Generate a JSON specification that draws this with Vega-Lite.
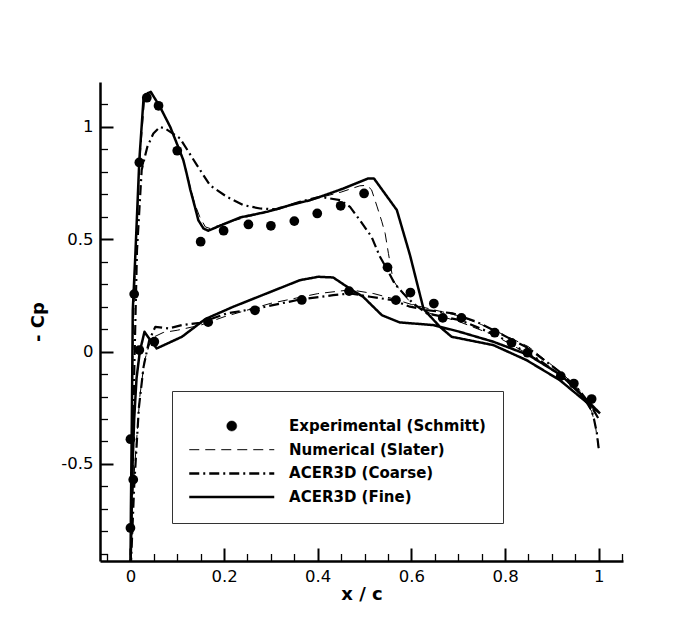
{
  "$schema": "https://vega.github.io/schema/vega-lite/v6.json",
  "width": 523,
  "height": 479,
  "autosize": {"type": "none"},
  "padding": {"left": 100, "top": 82, "right": 75, "bottom": 62},
  "background": "white",
  "config": {
    "font": "DejaVu Sans",
    "view": {"stroke": null},
    "axis": {"grid": false, "domainColor": "black", "tickColor": "black", "labelColor": "black", "titleColor": "black"}
  },
  "datasets": {
    "curves": [
      {"series": "ACER3D (Fine)", "x": 1.003, "cp": -0.275},
      {"series": "ACER3D (Fine)", "x": 0.96, "cp": -0.201},
      {"series": "ACER3D (Fine)", "x": 0.917, "cp": -0.127},
      {"series": "ACER3D (Fine)", "x": 0.846, "cp": -0.038},
      {"series": "ACER3D (Fine)", "x": 0.775, "cp": 0.029},
      {"series": "ACER3D (Fine)", "x": 0.686, "cp": 0.066},
      {"series": "ACER3D (Fine)", "x": 0.661, "cp": 0.11},
      {"series": "ACER3D (Fine)", "x": 0.626, "cp": 0.19},
      {"series": "ACER3D (Fine)", "x": 0.597, "cp": 0.43},
      {"series": "ACER3D (Fine)", "x": 0.569, "cp": 0.63},
      {"series": "ACER3D (Fine)", "x": 0.52, "cp": 0.771},
      {"series": "ACER3D (Fine)", "x": 0.508, "cp": 0.771},
      {"series": "ACER3D (Fine)", "x": 0.455, "cp": 0.726},
      {"series": "ACER3D (Fine)", "x": 0.405, "cp": 0.689},
      {"series": "ACER3D (Fine)", "x": 0.384, "cp": 0.674},
      {"series": "ACER3D (Fine)", "x": 0.348, "cp": 0.656},
      {"series": "ACER3D (Fine)", "x": 0.291, "cp": 0.622},
      {"series": "ACER3D (Fine)", "x": 0.234, "cp": 0.597},
      {"series": "ACER3D (Fine)", "x": 0.191, "cp": 0.56},
      {"series": "ACER3D (Fine)", "x": 0.166, "cp": 0.538},
      {"series": "ACER3D (Fine)", "x": 0.156, "cp": 0.548},
      {"series": "ACER3D (Fine)", "x": 0.145, "cp": 0.585},
      {"series": "ACER3D (Fine)", "x": 0.137, "cp": 0.65},
      {"series": "ACER3D (Fine)", "x": 0.128, "cp": 0.72},
      {"series": "ACER3D (Fine)", "x": 0.12, "cp": 0.793},
      {"series": "ACER3D (Fine)", "x": 0.113, "cp": 0.852},
      {"series": "ACER3D (Fine)", "x": 0.102, "cp": 0.911},
      {"series": "ACER3D (Fine)", "x": 0.085, "cp": 1.0},
      {"series": "ACER3D (Fine)", "x": 0.063, "cp": 1.09},
      {"series": "ACER3D (Fine)", "x": 0.0435, "cp": 1.156},
      {"series": "ACER3D (Fine)", "x": 0.037, "cp": 1.15},
      {"series": "ACER3D (Fine)", "x": 0.028, "cp": 1.127},
      {"series": "ACER3D (Fine)", "x": 0.019, "cp": 0.852},
      {"series": "ACER3D (Fine)", "x": 0.01, "cp": 0.407},
      {"series": "ACER3D (Fine)", "x": 0.005, "cp": 0.185},
      {"series": "ACER3D (Fine)", "x": 0.003, "cp": -0.3},
      {"series": "ACER3D (Fine)", "x": 0.001, "cp": -0.7},
      {"series": "ACER3D (Fine)", "x": 0.0, "cp": -1.0},
      {"series": "ACER3D (Fine)", "x": 0.003, "cp": -0.6},
      {"series": "ACER3D (Fine)", "x": 0.008, "cp": -0.3},
      {"series": "ACER3D (Fine)", "x": 0.013, "cp": -0.12},
      {"series": "ACER3D (Fine)", "x": 0.02, "cp": 0.0},
      {"series": "ACER3D (Fine)", "x": 0.03, "cp": 0.088},
      {"series": "ACER3D (Fine)", "x": 0.036, "cp": 0.07},
      {"series": "ACER3D (Fine)", "x": 0.056, "cp": 0.014},
      {"series": "ACER3D (Fine)", "x": 0.11, "cp": 0.066},
      {"series": "ACER3D (Fine)", "x": 0.16, "cp": 0.145},
      {"series": "ACER3D (Fine)", "x": 0.22, "cp": 0.2},
      {"series": "ACER3D (Fine)", "x": 0.291, "cp": 0.259},
      {"series": "ACER3D (Fine)", "x": 0.362, "cp": 0.318},
      {"series": "ACER3D (Fine)", "x": 0.401, "cp": 0.333},
      {"series": "ACER3D (Fine)", "x": 0.433, "cp": 0.33},
      {"series": "ACER3D (Fine)", "x": 0.476, "cp": 0.27},
      {"series": "ACER3D (Fine)", "x": 0.497, "cp": 0.244},
      {"series": "ACER3D (Fine)", "x": 0.537, "cp": 0.162},
      {"series": "ACER3D (Fine)", "x": 0.575, "cp": 0.13},
      {"series": "ACER3D (Fine)", "x": 0.647, "cp": 0.118},
      {"series": "ACER3D (Fine)", "x": 0.7, "cp": 0.09},
      {"series": "ACER3D (Fine)", "x": 0.775, "cp": 0.044},
      {"series": "ACER3D (Fine)", "x": 0.85, "cp": -0.015},
      {"series": "ACER3D (Fine)", "x": 0.92, "cp": -0.105},
      {"series": "ACER3D (Fine)", "x": 0.96, "cp": -0.185},
      {"series": "ACER3D (Fine)", "x": 1.003, "cp": -0.275},

      {"series": "ACER3D (Coarse)", "x": 1.0, "cp": -0.43},
      {"series": "ACER3D (Coarse)", "x": 0.996, "cp": -0.36},
      {"series": "ACER3D (Coarse)", "x": 0.99, "cp": -0.3},
      {"series": "ACER3D (Coarse)", "x": 0.985, "cp": -0.262},
      {"series": "ACER3D (Coarse)", "x": 0.967, "cp": -0.201},
      {"series": "ACER3D (Coarse)", "x": 0.932, "cp": -0.127},
      {"series": "ACER3D (Coarse)", "x": 0.874, "cp": -0.038},
      {"series": "ACER3D (Coarse)", "x": 0.782, "cp": 0.073},
      {"series": "ACER3D (Coarse)", "x": 0.704, "cp": 0.14},
      {"series": "ACER3D (Coarse)", "x": 0.633, "cp": 0.17},
      {"series": "ACER3D (Coarse)", "x": 0.604, "cp": 0.214},
      {"series": "ACER3D (Coarse)", "x": 0.583, "cp": 0.259},
      {"series": "ACER3D (Coarse)", "x": 0.565, "cp": 0.3},
      {"series": "ACER3D (Coarse)", "x": 0.549, "cp": 0.363},
      {"series": "ACER3D (Coarse)", "x": 0.533, "cp": 0.422},
      {"series": "ACER3D (Coarse)", "x": 0.515, "cp": 0.511},
      {"series": "ACER3D (Coarse)", "x": 0.49, "cp": 0.585},
      {"series": "ACER3D (Coarse)", "x": 0.469, "cp": 0.644},
      {"series": "ACER3D (Coarse)", "x": 0.448, "cp": 0.674},
      {"series": "ACER3D (Coarse)", "x": 0.405, "cp": 0.689},
      {"series": "ACER3D (Coarse)", "x": 0.362, "cp": 0.667},
      {"series": "ACER3D (Coarse)", "x": 0.312, "cp": 0.633},
      {"series": "ACER3D (Coarse)", "x": 0.277, "cp": 0.637},
      {"series": "ACER3D (Coarse)", "x": 0.241, "cp": 0.652},
      {"series": "ACER3D (Coarse)", "x": 0.206, "cp": 0.689},
      {"series": "ACER3D (Coarse)", "x": 0.17, "cp": 0.74},
      {"series": "ACER3D (Coarse)", "x": 0.142, "cp": 0.83},
      {"series": "ACER3D (Coarse)", "x": 0.106, "cp": 0.949},
      {"series": "ACER3D (Coarse)", "x": 0.074, "cp": 0.993},
      {"series": "ACER3D (Coarse)", "x": 0.063, "cp": 1.0},
      {"series": "ACER3D (Coarse)", "x": 0.049, "cp": 0.971},
      {"series": "ACER3D (Coarse)", "x": 0.036, "cp": 0.911},
      {"series": "ACER3D (Coarse)", "x": 0.024, "cp": 0.808},
      {"series": "ACER3D (Coarse)", "x": 0.014, "cp": 0.45},
      {"series": "ACER3D (Coarse)", "x": 0.008, "cp": -0.1},
      {"series": "ACER3D (Coarse)", "x": 0.004, "cp": -0.6},
      {"series": "ACER3D (Coarse)", "x": 0.0, "cp": -1.0},
      {"series": "ACER3D (Coarse)", "x": 0.008, "cp": -0.6},
      {"series": "ACER3D (Coarse)", "x": 0.018, "cp": -0.25},
      {"series": "ACER3D (Coarse)", "x": 0.028, "cp": -0.068},
      {"series": "ACER3D (Coarse)", "x": 0.04, "cp": 0.05},
      {"series": "ACER3D (Coarse)", "x": 0.053, "cp": 0.11},
      {"series": "ACER3D (Coarse)", "x": 0.081, "cp": 0.103},
      {"series": "ACER3D (Coarse)", "x": 0.11, "cp": 0.118},
      {"series": "ACER3D (Coarse)", "x": 0.149, "cp": 0.128},
      {"series": "ACER3D (Coarse)", "x": 0.206, "cp": 0.17},
      {"series": "ACER3D (Coarse)", "x": 0.277, "cp": 0.195},
      {"series": "ACER3D (Coarse)", "x": 0.362, "cp": 0.232},
      {"series": "ACER3D (Coarse)", "x": 0.433, "cp": 0.251},
      {"series": "ACER3D (Coarse)", "x": 0.469, "cp": 0.259},
      {"series": "ACER3D (Coarse)", "x": 0.512, "cp": 0.244},
      {"series": "ACER3D (Coarse)", "x": 0.561, "cp": 0.229},
      {"series": "ACER3D (Coarse)", "x": 0.597, "cp": 0.2},
      {"series": "ACER3D (Coarse)", "x": 0.633, "cp": 0.185},
      {"series": "ACER3D (Coarse)", "x": 0.689, "cp": 0.17},
      {"series": "ACER3D (Coarse)", "x": 0.739, "cp": 0.133},
      {"series": "ACER3D (Coarse)", "x": 0.775, "cp": 0.096},
      {"series": "ACER3D (Coarse)", "x": 0.85, "cp": 0.015},
      {"series": "ACER3D (Coarse)", "x": 0.92, "cp": -0.095},
      {"series": "ACER3D (Coarse)", "x": 0.96, "cp": -0.175},
      {"series": "ACER3D (Coarse)", "x": 0.985, "cp": -0.245},
      {"series": "ACER3D (Coarse)", "x": 1.0, "cp": -0.3},

      {"series": "Numerical (Slater)", "x": 1.0, "cp": -0.43},
      {"series": "Numerical (Slater)", "x": 0.993, "cp": -0.33},
      {"series": "Numerical (Slater)", "x": 0.985, "cp": -0.265},
      {"series": "Numerical (Slater)", "x": 0.965, "cp": -0.205},
      {"series": "Numerical (Slater)", "x": 0.93, "cp": -0.125},
      {"series": "Numerical (Slater)", "x": 0.87, "cp": -0.035},
      {"series": "Numerical (Slater)", "x": 0.78, "cp": 0.07},
      {"series": "Numerical (Slater)", "x": 0.7, "cp": 0.135},
      {"series": "Numerical (Slater)", "x": 0.64, "cp": 0.17},
      {"series": "Numerical (Slater)", "x": 0.6, "cp": 0.215},
      {"series": "Numerical (Slater)", "x": 0.575, "cp": 0.274},
      {"series": "Numerical (Slater)", "x": 0.561, "cp": 0.318},
      {"series": "Numerical (Slater)", "x": 0.551, "cp": 0.437},
      {"series": "Numerical (Slater)", "x": 0.544, "cp": 0.526},
      {"series": "Numerical (Slater)", "x": 0.537, "cp": 0.578},
      {"series": "Numerical (Slater)", "x": 0.527, "cp": 0.644},
      {"series": "Numerical (Slater)", "x": 0.515, "cp": 0.72},
      {"series": "Numerical (Slater)", "x": 0.505, "cp": 0.74},
      {"series": "Numerical (Slater)", "x": 0.49, "cp": 0.738},
      {"series": "Numerical (Slater)", "x": 0.45, "cp": 0.71},
      {"series": "Numerical (Slater)", "x": 0.4, "cp": 0.683},
      {"series": "Numerical (Slater)", "x": 0.35, "cp": 0.655},
      {"series": "Numerical (Slater)", "x": 0.3, "cp": 0.625},
      {"series": "Numerical (Slater)", "x": 0.25, "cp": 0.6},
      {"series": "Numerical (Slater)", "x": 0.2, "cp": 0.57},
      {"series": "Numerical (Slater)", "x": 0.17, "cp": 0.548},
      {"series": "Numerical (Slater)", "x": 0.16, "cp": 0.555},
      {"series": "Numerical (Slater)", "x": 0.148, "cp": 0.6},
      {"series": "Numerical (Slater)", "x": 0.137, "cp": 0.66},
      {"series": "Numerical (Slater)", "x": 0.128, "cp": 0.73},
      {"series": "Numerical (Slater)", "x": 0.12, "cp": 0.8},
      {"series": "Numerical (Slater)", "x": 0.11, "cp": 0.87},
      {"series": "Numerical (Slater)", "x": 0.1, "cp": 0.925},
      {"series": "Numerical (Slater)", "x": 0.085, "cp": 1.0},
      {"series": "Numerical (Slater)", "x": 0.063, "cp": 1.095},
      {"series": "Numerical (Slater)", "x": 0.044, "cp": 1.15},
      {"series": "Numerical (Slater)", "x": 0.03, "cp": 1.12},
      {"series": "Numerical (Slater)", "x": 0.02, "cp": 0.85},
      {"series": "Numerical (Slater)", "x": 0.011, "cp": 0.42},
      {"series": "Numerical (Slater)", "x": 0.006, "cp": 0.1},
      {"series": "Numerical (Slater)", "x": 0.003, "cp": -0.4},
      {"series": "Numerical (Slater)", "x": 0.0, "cp": -1.0},
      {"series": "Numerical (Slater)", "x": 0.006, "cp": -0.6},
      {"series": "Numerical (Slater)", "x": 0.02, "cp": -0.2},
      {"series": "Numerical (Slater)", "x": 0.03, "cp": -0.04},
      {"series": "Numerical (Slater)", "x": 0.045, "cp": 0.06},
      {"series": "Numerical (Slater)", "x": 0.07, "cp": 0.085},
      {"series": "Numerical (Slater)", "x": 0.1, "cp": 0.095},
      {"series": "Numerical (Slater)", "x": 0.15, "cp": 0.118},
      {"series": "Numerical (Slater)", "x": 0.2, "cp": 0.155},
      {"series": "Numerical (Slater)", "x": 0.3, "cp": 0.215},
      {"series": "Numerical (Slater)", "x": 0.4, "cp": 0.258},
      {"series": "Numerical (Slater)", "x": 0.47, "cp": 0.275},
      {"series": "Numerical (Slater)", "x": 0.52, "cp": 0.258},
      {"series": "Numerical (Slater)", "x": 0.56, "cp": 0.236},
      {"series": "Numerical (Slater)", "x": 0.6, "cp": 0.21},
      {"series": "Numerical (Slater)", "x": 0.65, "cp": 0.185},
      {"series": "Numerical (Slater)", "x": 0.7, "cp": 0.16},
      {"series": "Numerical (Slater)", "x": 0.75, "cp": 0.12},
      {"series": "Numerical (Slater)", "x": 0.78, "cp": 0.092},
      {"series": "Numerical (Slater)", "x": 0.85, "cp": 0.022},
      {"series": "Numerical (Slater)", "x": 0.92, "cp": -0.093},
      {"series": "Numerical (Slater)", "x": 0.96, "cp": -0.173},
      {"series": "Numerical (Slater)", "x": 0.985, "cp": -0.25},
      {"series": "Numerical (Slater)", "x": 1.0, "cp": -0.3}
    ],
    "schmitt": [
      {"x": 0.0, "cp": -0.785}, {"x": 0.006, "cp": -0.57}, {"x": 0.0, "cp": -0.39},
      {"x": 0.008, "cp": 0.256}, {"x": 0.019, "cp": 0.842}, {"x": 0.035, "cp": 1.13},
      {"x": 0.06, "cp": 1.094}, {"x": 0.1, "cp": 0.894}, {"x": 0.15, "cp": 0.489},
      {"x": 0.199, "cp": 0.538}, {"x": 0.252, "cp": 0.566}, {"x": 0.3, "cp": 0.56},
      {"x": 0.35, "cp": 0.581}, {"x": 0.399, "cp": 0.615}, {"x": 0.449, "cp": 0.649},
      {"x": 0.499, "cp": 0.704}, {"x": 0.549, "cp": 0.375}, {"x": 0.598, "cp": 0.263},
      {"x": 0.648, "cp": 0.214}, {"x": 0.707, "cp": 0.15}, {"x": 0.778, "cp": 0.084},
      {"x": 0.814, "cp": 0.039}, {"x": 0.848, "cp": -0.005}, {"x": 0.919, "cp": -0.109},
      {"x": 0.947, "cp": -0.142}, {"x": 0.985, "cp": -0.211},
      {"x": 0.019, "cp": 0.007}, {"x": 0.051, "cp": 0.044}, {"x": 0.166, "cp": 0.131},
      {"x": 0.266, "cp": 0.184}, {"x": 0.366, "cp": 0.23}, {"x": 0.467, "cp": 0.269},
      {"x": 0.567, "cp": 0.229}, {"x": 0.667, "cp": 0.15}
    ]
  },
  "resolve": {"axis": {"x": "independent", "y": "independent"}},
  "layer": [
    {
      "data": {"name": "curves"},
      "transform": [{"filter": "datum.series === 'ACER3D (Fine)'"}],
      "mark": {"type": "line", "clip": true, "color": "black", "strokeWidth": 2.5, "strokeJoin": "round"},
      "encoding": {
        "x": {
          "field": "x", "type": "quantitative",
          "scale": {"domain": [-0.065, 1.052], "nice": false, "zero": false},
          "axis": {
            "orient": "bottom", "values": [0, 0.2, 0.4, 0.6, 0.8, 1], "format": "~g",
            "tickSize": -13, "tickWidth": 2, "domainWidth": 2.5, "labelPadding": 20,
            "labelFontSize": 16.5, "labelFlush": false, "labelOverlap": false,
            "title": "x / c", "titleFontSize": 18, "titleFontWeight": "bold", "titlePadding": 1
          }
        },
        "y": {
          "field": "cp", "type": "quantitative",
          "scale": {"domain": [-0.932, 1.2], "nice": false, "zero": false},
          "axis": {
            "orient": "left", "values": [-0.5, 0, 0.5, 1], "format": "~g",
            "labelExpr": "replace(datum.label, '\u2212', '-')",
            "tickSize": -13, "tickWidth": 2, "domainWidth": 2.5, "labelPadding": 20,
            "labelFontSize": 16.5, "labelFlush": false, "labelOverlap": false,
            "title": "- Cp", "titleFontSize": 18, "titleFontWeight": "bold", "titlePadding": 13
          }
        },
        "order": {"value": null},
        "strokeDash": {
          "field": "series", "type": "nominal",
          "scale": {
            "domain": ["Experimental (Schmitt)", "Numerical (Slater)", "ACER3D (Coarse)", "ACER3D (Fine)"],
            "range": [[1, 0], [10, 6], [10, 4, 2, 4], [1, 0]]
          },
          "legend": {
            "orient": "none", "legendX": 72, "legendY": 309,
            "title": " ", "titleFontSize": 8, "titlePadding": 2.5,
            "padding": 17, "strokeColor": "#333", "fillColor": "white",
            "rowPadding": 7.7, "symbolSize": 100, "symbolOffset": 35.25, "labelOffset": 49.8,
            "symbolStrokeColor": "black", "symbolStrokeWidth": 2.5,
            "labelFontSize": 15, "labelFontWeight": "bold", "labelColor": "black", "labelLimit": 400,
            "encode": {
              "symbols": {
                "update": {
                  "shape": {"signal": "datum.value === 'Experimental (Schmitt)' ? 'circle' : 'M-8.5,0H8.5'"},
                  "fill": {"signal": "datum.value === 'Experimental (Schmitt)' ? 'black' : 'transparent'"},
                  "stroke": {"value": "black"},
                  "strokeWidth": {"signal": "datum.value === 'Numerical (Slater)' ? 1 : datum.value === 'Experimental (Schmitt)' ? 0.5 : 2.5"},
                  "strokeDash": {"signal": "datum.value === 'Numerical (Slater)' ? [14, 10] : datum.value === 'ACER3D (Coarse)' ? [17, 5, 3, 5] : [1, 0]"}
                }
              }
            }
          }
        }
      }
    },
    {
      "data": {"name": "curves"},
      "transform": [{"filter": "datum.series === 'ACER3D (Coarse)'"}],
      "mark": {"type": "line", "clip": true, "color": "black", "strokeWidth": 2.2, "strokeJoin": "round"},
      "encoding": {
        "x": {"field": "x", "type": "quantitative", "scale": {"domain": [-0.065, 1.052], "nice": false, "zero": false}, "axis": null},
        "y": {"field": "cp", "type": "quantitative", "scale": {"domain": [-0.932, 1.2], "nice": false, "zero": false}, "axis": null},
        "order": {"value": null},
        "strokeDash": {"field": "series", "type": "nominal"}
      }
    },
    {
      "data": {"name": "curves"},
      "transform": [{"filter": "datum.series === 'Numerical (Slater)'"}],
      "mark": {"type": "line", "clip": true, "color": "black", "strokeWidth": 1, "strokeJoin": "round"},
      "encoding": {
        "x": {"field": "x", "type": "quantitative", "scale": {"domain": [-0.065, 1.052], "nice": false, "zero": false}, "axis": null},
        "y": {"field": "cp", "type": "quantitative", "scale": {"domain": [-0.932, 1.2], "nice": false, "zero": false}, "axis": null},
        "order": {"value": null},
        "strokeDash": {"field": "series", "type": "nominal"}
      }
    },
    {
      "data": {"name": "schmitt"},
      "mark": {"type": "point", "filled": true, "color": "black", "opacity": 1, "size": 95},
      "encoding": {
        "x": {
          "field": "x", "type": "quantitative",
          "scale": {"domain": [-0.065, 1.052], "nice": false, "zero": false},
          "axis": {
            "orient": "bottom",
            "values": [-0.05, 0.05, 0.1, 0.15, 0.25, 0.3, 0.35, 0.45, 0.5, 0.55, 0.65, 0.7, 0.75, 0.85, 0.9, 0.95, 1.05],
            "tickSize": -7.5, "tickWidth": 1.3, "labels": false, "domain": false, "title": null
          }
        },
        "y": {
          "field": "cp", "type": "quantitative",
          "scale": {"domain": [-0.932, 1.2], "nice": false, "zero": false},
          "axis": {
            "orient": "left",
            "values": [-0.9, -0.8, -0.7, -0.6, -0.4, -0.3, -0.2, -0.1, 0.1, 0.2, 0.3, 0.4, 0.6, 0.7, 0.8, 0.9, 1.1],
            "tickSize": -7.5, "tickWidth": 1.3, "labels": false, "domain": false, "title": null
          }
        }
      }
    }
  ]
}
